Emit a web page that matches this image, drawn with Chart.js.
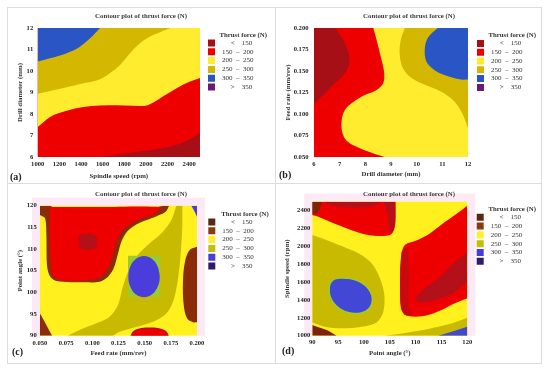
<!DOCTYPE html>
<html><head><meta charset="utf-8">
<script src="https://cdn.jsdelivr.net/npm/chart.js@4.4.1/dist/chart.umd.min.js"></script>
<style>
html,body{margin:0;padding:0;background:#fff}
body{width:550px;height:370px;position:relative;overflow:hidden}
canvas{position:absolute}
.frame{position:absolute;left:7px;top:7px;width:535px;height:357px;border:1px solid #dcdcdc;box-sizing:border-box}
.vline{position:absolute;left:275px;top:7px;width:1px;height:357px;background:#dcdcdc}
.hline{position:absolute;left:7px;top:183px;width:535px;height:1px;background:#dcdcdc}
.tag{position:absolute;font:bold 10px 'Liberation Serif',serif;color:#222;line-height:10px;white-space:nowrap}
</style></head><body>
<div class="frame"></div><div class="vline"></div><div class="hline"></div>
<canvas id="ca" width="275" height="185" style="left:0;top:0"></canvas>
<canvas id="cb" width="275" height="185" style="left:275px;top:0"></canvas>
<canvas id="cc" width="275" height="185" style="left:0;top:185px"></canvas>
<canvas id="cd" width="275" height="185" style="left:275px;top:185px"></canvas>
<div class="tag" style="left:10px;top:172px">(a)</div>
<div class="tag" style="left:279px;top:170px">(b)</div>
<div class="tag" style="left:12px;top:347px">(c)</div>
<div class="tag" style="left:282px;top:346px">(d)</div>
<script>
// ---------- text ----------
const chartTitle = 'Contour plot of thrust force (N)';
const legendTitle = 'Thrust force (N)';
const legendLabels = ['       <    150', '  150  \u2013  200', '  200  \u2013  250', '  250  \u2013  300', '  300  \u2013  350', '       >    350'];

// ---------- colours ----------
const legendColorsAB = ['#A60F15', '#EE0000', '#FFEC2E', '#D3B700', '#2A55C5', '#6A1B78'];
const legendColorsCD = ['#58280F', '#8C3B0C', '#FFF02B', '#C4BD0A', '#4B3CD4', '#2F1B69'];

// ---------- (a) spindle speed (rpm) vs drill diameter (mm) ----------
const aSpeedTicks = [1000, 1200, 1400, 1600, 1800, 2000, 2200, 2400];
const aDiameterTicks = [6, 7, 8, 9, 10, 11, 12];
const aEdge150 = [[1575, 6.0], [1730, 6.11], [1885, 6.22], [2040, 6.31], [2190, 6.45], [2315, 6.62], [2410, 6.84], [2500, 7.13]];
const aEdge200 = [[1000, 7.39], [1114, 7.86], [1268, 8.15], [1422, 8.32], [1576, 8.40], [1730, 8.41], [1884, 8.38], [1976, 8.37], [2069, 8.54], [2161, 8.82], [2284, 9.20], [2408, 9.51], [2500, 9.67]];
const aEdge250 = [[1000, 8.94], [1268, 9.25], [1422, 9.43], [1576, 9.62], [1668, 9.90], [1761, 10.28], [1853, 10.83], [1946, 11.29], [2038, 11.60], [2130, 11.80], [2230, 12.0]];
const aEdge300 = [[1000, 10.44], [1114, 10.59], [1268, 10.83], [1391, 11.13], [1484, 11.52], [1576, 12.0]];

// ---------- (b) drill diameter (mm) vs feed rate (mm/rev) ----------
const bDiameterTicks = [6, 7, 8, 9, 10, 11, 12];
const bFeedTicks = [0.05, 0.075, 0.1, 0.125, 0.15, 0.175, 0.2];
const bEdge150 = [[6.82, 0.2], [7.14, 0.186], [7.36, 0.169], [7.36, 0.157], [7.14, 0.145], [6.75, 0.134], [6.36, 0.122], [6, 0.112]];
const bEdge200 = [[8.31, 0.2], [8.44, 0.186], [8.60, 0.167], [8.73, 0.149], [8.70, 0.136], [8.44, 0.128], [7.98, 0.122], [7.53, 0.114], [7.21, 0.105], [7.08, 0.093], [7.10, 0.079], [7.27, 0.069], [7.66, 0.062], [8.24, 0.055], [8.76, 0.05]];
const bEdge250 = [[9.54, 0.2], [9.38, 0.186], [9.34, 0.169], [9.47, 0.153], [9.80, 0.142], [10.32, 0.134], [10.96, 0.126], [11.42, 0.116], [11.74, 0.103], [11.94, 0.089], [12, 0.083]];
const bEdge300 = [[10.83, 0.2], [10.47, 0.190], [10.32, 0.177], [10.38, 0.161], [10.70, 0.151], [11.22, 0.144], [11.74, 0.140], [12, 0.140]];

// ---------- (c) feed rate (mm/rev) vs point angle (deg) ----------
const cFeedTicks = [0.05, 0.075, 0.1, 0.125, 0.15, 0.175, 0.2];
const cAngleTicks = [90, 95, 100, 105, 110, 115, 120];
const cOliveBand = [[0.0768, 90], [0.0879, 91.31], [0.1038, 92.85], [0.1166, 94.39], [0.1245, 97.08], [0.1287, 100.92], [0.1341, 104.77], [0.1420, 108.23], [0.1548, 111.31], [0.1675, 114.0], [0.1755, 116.69], [0.1803, 120], [0.1860, 120], [0.1860, 115.54], [0.1850, 110.92], [0.1835, 106.31], [0.1809, 101.69], [0.1771, 97.85], [0.1707, 95.15], [0.1580, 93.23], [0.1389, 91.85], [0.1261, 90.92], [0.1198, 90]];
const cLimeSquare = [[0.1341, 108.46], [0.1650, 108.46], [0.1650, 99.0], [0.1341, 99.0], [0.1341, 108.46]];
const cBlueEllipse = [[0.1644, 103.62], [0.1623, 106.0], [0.1568, 107.75], [0.1494, 108.38], [0.1418, 107.75], [0.1364, 106.0], [0.1344, 103.62], [0.1364, 101.23], [0.1418, 99.49], [0.1494, 98.85], [0.1568, 99.49], [0.1623, 101.23]];
const cBrownRim = [[0.05, 120], [0.0599, 120], [0.0624, 119.69], [0.1612, 119.69], [0.1675, 120], [0.1733, 120], [0.1701, 118.62], [0.1564, 117.08], [0.1420, 115.69], [0.1331, 114.0], [0.1277, 111.69], [0.1242, 108.62], [0.1204, 105.54], [0.1150, 103.62], [0.1070, 102.46], [0.0943, 102.31], [0.0656, 102.62], [0.0592, 103.85], [0.0567, 106.31], [0.0561, 113.23], [0.0548, 117.08], [0.05, 117.85]];
const cRedZone = [[0.0592, 119.69], [0.1070, 119.69], [0.1643, 119.69], [0.1612, 118.23], [0.1484, 117.08], [0.1373, 115.92], [0.1293, 114.38], [0.1245, 112.46], [0.1207, 109.38], [0.1166, 106.31], [0.1118, 104.38], [0.1054, 103.23], [0.0943, 102.77], [0.0752, 102.62], [0.0662, 103.08], [0.0615, 104.38], [0.0599, 107.85], [0.0592, 113.23], [0.0592, 117.85]];
const cDarkSpot = [[0.0879, 113.23], [0.0959, 113.54], [0.1032, 113.08], [0.1045, 111.69], [0.1032, 110.31], [0.0959, 109.92], [0.0885, 110.31], [0.0873, 111.69]];
const cBottomRim = [[0.1363, 90], [0.1395, 91.15], [0.1468, 91.77], [0.1548, 91.92], [0.1627, 91.77], [0.1701, 91.15], [0.1733, 90]];
const cBottomSpot = [[0.1373, 90], [0.1405, 90.92], [0.1468, 91.46], [0.1548, 91.62], [0.1627, 91.46], [0.1691, 90.92], [0.1723, 90]];
const cCornerWedge = [[0.05, 95.15], [0.0545, 93.23], [0.0586, 91.31], [0.0615, 90]];
const cRightStrip = [[0.2, 110.54], [0.1930, 109.77], [0.1885, 107.08], [0.1866, 102.46], [0.1873, 97.08], [0.1905, 94.0], [0.1962, 93.08], [0.2, 93.08]];
const cBlueCorner = [[0.1946, 120], [0.1978, 118.6], [0.2, 117.46]];

// ---------- (d) point angle (deg) vs spindle speed (rpm) ----------
const dAngleTicks = [90, 95, 100, 105, 110, 115, 120];
const dSpeedTicks = [1000, 1200, 1400, 1600, 1800, 2000, 2200, 2400];
const dOliveZone = [[90, 2127], [92.45, 2078], [95.68, 2004], [98.90, 1922], [101.48, 1810], [103.10, 1642], [103.94, 1455], [103.74, 1269], [102.45, 1149], [99.55, 1101], [95.68, 1082], [92.45, 1101], [90, 1149]];
const dLimeRim = [[95.0, 1650], [97.4, 1648], [99.6, 1598], [101.2, 1505], [101.7, 1395], [101.0, 1290], [99.3, 1242], [96.8, 1252], [94.8, 1312], [93.4, 1412], [93.0, 1535], [93.6, 1615]];
const dBlueZone = [[95.03, 1634], [97.29, 1631], [99.42, 1586], [100.97, 1500], [101.48, 1399], [100.84, 1306], [99.23, 1261], [96.97, 1269], [95.03, 1325], [93.74, 1418], [93.42, 1530], [93.87, 1604]];
const dTopRed = [[106.13, 2500], [106.13, 2295], [105.81, 2183], [105.03, 2127], [102.77, 2116], [99.55, 2145], [96.32, 2209], [93.42, 2276], [91.16, 2332], [90, 2351]];
const dTopStrip = [[92.45, 2500], [103.42, 2500], [102.13, 2455], [98.90, 2433], [95.68, 2440], [93.10, 2470]];
const dTopRightStrip = [[103.74, 2500], [106.0, 2500], [105.9, 2239], [105.48, 2157], [104.9, 2201], [104.71, 2351]];
const dTopCorner = [[91.81, 2500], [91.48, 2425], [90.84, 2369], [90, 2358]];
const dRightRed = [[120, 2455], [117.61, 2351], [115.03, 2246], [112.45, 2134], [109.87, 2060], [108.06, 2022], [107.42, 1959], [107.10, 1828], [106.97, 1567], [107.16, 1306], [107.94, 1231], [109.87, 1213], [112.45, 1231], [115.03, 1287], [117.61, 1362], [120, 1418]];
const dRightDarkBand = [[109.87, 1418], [111.81, 1530], [114.39, 1642], [116.97, 1791], [120, 1940], [120, 1604], [117.61, 1493], [115.03, 1418], [112.45, 1381], [110.52, 1373]];
const dRightDarkEdge = [[107.29, 1940], [108.26, 1985], [108.71, 1754], [108.71, 1306], [109.36, 1239], [108.06, 1231], [107.16, 1325], [107.03, 1754]];
const dBottomOlive = [[104.06, 1000], [108.58, 1037], [112.45, 1075], [116.32, 1127], [120, 1202]];
const dBottomBlue = [[114.39, 1000], [116.97, 1045], [120, 1101]];
const dBottomCorner = [[90, 1119], [91.81, 1082], [93.42, 1045], [94.71, 1000]];

// ---------- helpers ----------
const SERIF = "'Liberation Serif','Times New Roman',serif";
const INK = '#333333';

function onBound(p, P) { return p[0] <= P.xMin || p[0] >= P.xMax || p[1] <= P.yMin || p[1] >= P.yMax; }
function buildPoints(r, P) {
  const cmap = {TL: [P.xMin, P.yMax], TR: [P.xMax, P.yMax], BL: [P.xMin, P.yMin], BR: [P.xMax, P.yMin]};
  if (r.kind === 'above' || r.kind === 'below') return r.data.map(([x, y]) => ({x, y}));
  if (r.kind === 'loop') return r.data.concat([r.data[0], r.data[1]]).map(([x, y]) => ({x, y}));
  const all = r.data.concat((r.corners || []).map(k => cmap[k]));
  const out = [];
  all.forEach(p => { out.push({x: p[0], y: p[1]}); if (onBound(p, P)) out.push({x: p[0], y: p[1]}); });
  return out;
}

const bgPlugin = {
  id: 'plotBg',
  beforeDraw(chart, args, opts) {
    if (!opts.halo) return;
    const a = chart.chartArea, ctx = chart.ctx, w = 8;
    ctx.save(); ctx.fillStyle = opts.halo;
    ctx.fillRect(a.left - w, a.top - w, a.right - a.left + 2 * w, w);
    ctx.fillRect(a.left - w, a.top, w, a.bottom - a.top + 2);
    ctx.fillRect(a.right, a.top, w, a.bottom - a.top);
    ctx.restore();
  },
  beforeDatasetsDraw(chart, args, opts) {
    const a = chart.chartArea, ctx = chart.ctx;
    ctx.save(); ctx.fillStyle = opts.color; ctx.fillRect(a.left, a.top, a.right - a.left, a.bottom - a.top); ctx.restore();
  }
};

function placeLegend(P) {
  return {
    id: 'placeLegend',
    beforeInit(chart) {
      const lg = chart.legend;
      const fit0 = lg.fit;
      lg.fit = function () { fit0.call(this); this.width = 275 - P.padR - P.chartR; };
      const draw0 = lg.draw;
      lg.draw = function () {
        const dx = P.swatchX - this.options.labels.padding - this.left;
        const dy = P.legendTop - this.top;
        this.left += dx; this.right += dx; this.top += dy; this.bottom += dy;
        draw0.apply(this, arguments);
        this.left -= dx; this.right -= dx; this.top -= dy; this.bottom -= dy;
      };
      const title0 = lg._drawTitle;
      lg._drawTitle = function () {
        const dx = P.legendTitleX - (this.left + this.width / 2);
        this.left += dx; this.right += dx;
        title0.apply(this, arguments);
        this.left -= dx; this.right -= dx;
      };
    }
  };
}

function makeChart(P) {
  const n = P.regions.length;
  const datasets = P.regions.map((r, i) => ({
    data: buildPoints(r, P),
    showLine: true,
    fill: r.kind === 'above' ? 'end' : (r.kind === 'below' ? 'start' : 'shape'),
    backgroundColor: r.color, borderColor: r.color, borderWidth: 0,
    pointRadius: 0, pointHoverRadius: 0, pointHitRadius: 0,
    tension: r.tension !== undefined ? r.tension : 0.35,
    cubicInterpolationMode: (r.kind === 'above' || r.kind === 'below') ? 'monotone' : 'default',
    order: n - i
  }));
  const tickFont = {family: SERIF, size: 6.6, weight: 'bold', lineHeight: 1};
  const axTitleFont = {family: SERIF, size: 6.8, weight: 'bold', lineHeight: 1};
  new Chart(document.getElementById(P.id), {
    type: 'scatter',
    data: {datasets},
    options: {
      responsive: false, animation: false, events: [],
      layout: {padding: {left: P.padL, right: P.padR, top: 0, bottom: 0}},
      plugins: {
        plotBg: {color: P.base, halo: P.halo},
        tooltip: {enabled: false},
        title: {display: true, text: chartTitle, color: '#3a3a3a', font: {family: SERIF, size: 6.8, weight: 'bold', lineHeight: 1},
          padding: {top: P.titleY - 3.4, bottom: P.chartT - P.titleY - 3.4}},
        legend: {
          display: true, position: 'right', align: 'start',
          title: {display: true, text: legendTitle, color: INK, position: 'center', font: {family: SERIF, size: 6.8, weight: 'bold', lineHeight: 0.9}, padding: 0},
          labels: {
            boxWidth: 7, boxHeight: 7, padding: 1.8, color: INK, font: {family: SERIF, size: 7},
            generateLabels: () => legendLabels.map((t, i) => ({text: t, fillStyle: P.legendColors[i], strokeStyle: P.legendColors[i], lineWidth: 0, hidden: false, fontColor: INK, datasetIndex: i}))
          }
        }
      },
      scales: {
        x: {
          type: 'linear', min: P.xMin, max: P.xMax,
          grid: {display: false, drawTicks: false}, border: {display: false},
          afterBuildTicks: s => { s.ticks = P.xTicks.map(v => ({value: v})); },
          afterFit: s => { s.height = 185 - P.chartB; },
          ticks: {autoSkip: false, maxRotation: 0, padding: P.xTickGap, color: '#222', font: tickFont, callback: v => P.xFmt(v)},
          title: {display: true, text: P.xTitle, color: INK, font: axTitleFont, padding: {top: 0, bottom: 185 - P.xTitleY - 3.4}}
        },
        y: {
          type: 'linear', min: P.yMin, max: P.yMax,
          grid: {display: false, drawTicks: false}, border: {display: false},
          afterBuildTicks: s => { s.ticks = P.yTicks.map(v => ({value: v})); },
          afterFit: s => { s.width = P.chartL - P.padL; },
          ticks: {autoSkip: false, padding: P.yTickGap, color: '#222', font: tickFont, callback: v => P.yFmt(v)},
          title: {display: true, text: P.yTitle, color: INK, font: axTitleFont, padding: {top: P.yTitleX - P.padL - 3.4, bottom: 0}}
        }
      }
    },
    plugins: [bgPlugin, placeLegend(P)]
  });
}

const plain = v => String(v);
const three = v => Number(v).toFixed(3);

// colours used inside the plots
const AB = {darkred: '#A60F15', red: '#EE0000', yellow: '#FFEC2E', gold: '#D3B700', blue: '#2A55C5'};
const CD = {darkred: '#B3101A', red: '#EE0000', brown: '#8A2C08', yellow: '#FFF01E', olive: '#C8BA00', blueC: '#4B3DDA', blueD: '#4347D6', lime: '#9DCB2E', corner: '#7E220C', halo: '#FCE9F6'};

makeChart({
  id: 'ca', xMin: 1000, xMax: 2500, yMin: 6, yMax: 12, xTicks: aSpeedTicks, yTicks: aDiameterTicks, xFmt: plain, yFmt: plain,
  xTitle: 'Spindle speed (rpm)', yTitle: 'Drill diameter (mm)',
  padL: 8, padR: 1, chartL: 37.7, chartR: 200, chartT: 28, chartB: 157,
  titleY: 16, xTitleY: 176, yTitleX: 20.7, yTickGap: 4.5, xTickGap: 3.7,
  swatchX: 208, legendTop: 31.6, legendTitleX: 241.7, legendColors: legendColorsAB, base: AB.red,
  regions: [
    {kind: 'below', data: aEdge150, color: AB.darkred},
    {kind: 'above', data: aEdge200, color: AB.yellow},
    {kind: 'above', data: aEdge250, color: AB.gold},
    {kind: 'above', data: aEdge300, color: AB.blue}
  ]
});

makeChart({
  id: 'cb', xMin: 6, xMax: 12, yMin: 0.05, yMax: 0.2, xTicks: bDiameterTicks, yTicks: bFeedTicks, xFmt: plain, yFmt: three,
  xTitle: 'Drill diameter (mm)', yTitle: 'Feed rate (mm/rev)',
  padL: 1, padR: 8, chartL: 39, chartR: 193, chartT: 28, chartB: 157,
  titleY: 16, xTitleY: 174.5, yTitleX: 13.3, yTickGap: 5.5, xTickGap: 3.8,
  swatchX: 202, legendTop: 32, legendTitleX: 234, legendColors: legendColorsAB, base: AB.yellow,
  regions: [
    {kind: 'patch', data: bEdge200, corners: ['BL', 'TL'], color: AB.red},
    {kind: 'patch', data: bEdge150, corners: ['TL'], color: AB.darkred},
    {kind: 'patch', data: bEdge250, corners: ['TR'], color: AB.gold},
    {kind: 'patch', data: bEdge300, corners: ['TR'], color: AB.blue}
  ]
});

makeChart({
  id: 'cc', xMin: 0.05, xMax: 0.2, yMin: 90, yMax: 120, xTicks: cFeedTicks, yTicks: cAngleTicks, xFmt: three, yFmt: plain,
  xTitle: 'Feed rate (mm/rev)', yTitle: 'Point angle (\u00b0)',
  padL: 8, padR: 1, chartL: 40, chartR: 197, chartT: 20.7, chartB: 150.7,
  titleY: 9, xTitleY: 168, yTitleX: 20, yTickGap: 3.3, xTickGap: 4,
  swatchX: 208.3, legendTop: 25.6, legendTitleX: 241, legendColors: legendColorsCD, base: CD.yellow, halo: CD.halo,
  regions: [
    {kind: 'patch', data: cOliveBand, color: CD.olive, tension: 0.3},
    {kind: 'patch', data: cLimeSquare, color: CD.lime, tension: 0},
    {kind: 'loop', data: cBlueEllipse, color: CD.blueC, tension: 0.4},
    {kind: 'patch', data: cBrownRim, color: CD.brown, tension: 0.3},
    {kind: 'patch', data: cRedZone, color: CD.red, tension: 0.3},
    {kind: 'loop', data: cDarkSpot, color: CD.darkred, tension: 0.4},
    {kind: 'patch', data: cBottomRim, color: CD.darkred},
    {kind: 'patch', data: cBottomSpot, color: CD.red},
    {kind: 'patch', data: cCornerWedge, corners: ['BL'], color: CD.brown},
    {kind: 'patch', data: cRightStrip, color: CD.brown},
    {kind: 'patch', data: cBlueCorner, corners: ['TR'], color: CD.blueC}
  ]
});

makeChart({
  id: 'cd', xMin: 90, xMax: 120, yMin: 1000, yMax: 2500, xTicks: dAngleTicks, yTicks: dSpeedTicks, xFmt: plain, yFmt: plain,
  xTitle: 'Point angle (\u00b0)', yTitle: 'Spindle speed (rpm)',
  padL: 1, padR: 8, chartL: 37.3, chartR: 192.3, chartT: 16.7, chartB: 150.7,
  titleY: 9, xTitleY: 168.3, yTitleX: 12.3, yTickGap: 2, xTickGap: 3,
  swatchX: 201.7, legendTop: 20.9, legendTitleX: 234.7, legendColors: legendColorsCD, base: CD.yellow, halo: CD.halo,
  regions: [
    {kind: 'patch', data: dOliveZone, color: CD.olive, tension: 0.3},
    {kind: 'loop', data: dLimeRim, color: CD.lime, tension: 0.4},
    {kind: 'loop', data: dBlueZone, color: CD.blueD, tension: 0.4},
    {kind: 'patch', data: dTopRed, corners: ['TL'], color: CD.red, tension: 0.3},
    {kind: 'patch', data: dTopStrip, color: CD.darkred, tension: 0.3},
    {kind: 'patch', data: dTopRightStrip, color: CD.darkred, tension: 0.3},
    {kind: 'patch', data: dTopCorner, corners: ['TL'], color: CD.corner},
    {kind: 'patch', data: dRightRed, color: CD.red, tension: 0.3},
    {kind: 'patch', data: dRightDarkEdge, color: '#C80A0E', tension: 0.3},
    {kind: 'patch', data: dRightDarkBand, color: CD.darkred, tension: 0.3},
    {kind: 'patch', data: dBottomOlive, corners: ['BR'], color: CD.olive},
    {kind: 'patch', data: dBottomBlue, corners: ['BR'], color: CD.blueD},
    {kind: 'patch', data: dBottomCorner, corners: ['BL'], color: CD.corner}
  ]
});
</script>
</body></html>
